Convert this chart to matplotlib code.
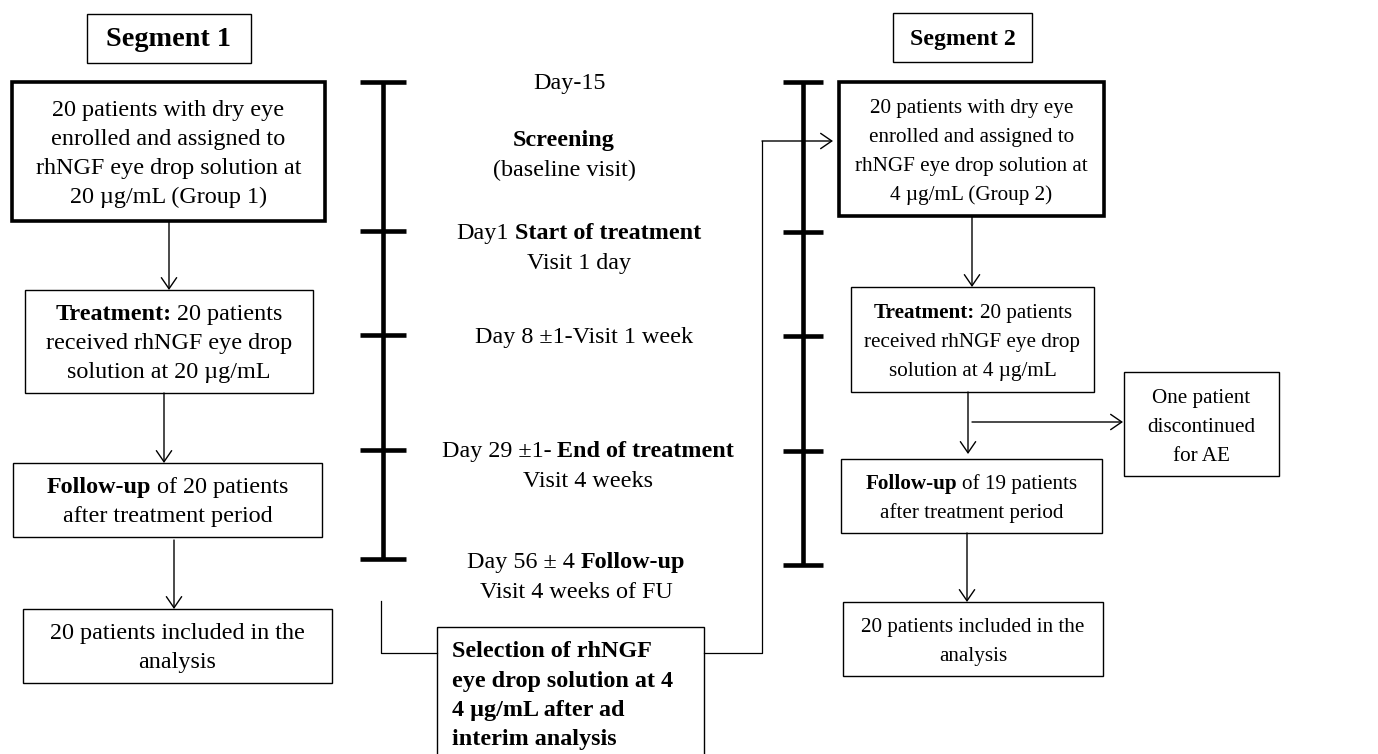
import matplotlib
matplotlib.use("Agg")
import matplotlib.pyplot as plt
from matplotlib.patches import Rectangle, FancyArrowPatch

SERIF = "Liberation Serif"

# ---- texts (** marks bold runs) ----
seg_titles = ["Segment 1", "Segment 2"]

seg1_text = [
    ["20 patients with dry eye", "enrolled and assigned to",
     "rhNGF eye drop solution at", "20 µg/mL (Group 1)"],
    ["**Treatment:** 20 patients", "received rhNGF eye drop",
     "solution at 20 µg/mL"],
    ["**Follow-up** of 20 patients", "after treatment period"],
    ["20 patients included in the", "analysis"],
]
seg2_text = [
    ["20 patients with dry eye", "enrolled and assigned to",
     "rhNGF eye drop solution at", "4 µg/mL (Group 2)"],
    ["**Treatment:** 20 patients", "received rhNGF eye drop",
     "solution at 4 µg/mL"],
    ["**Follow-up** of 19 patients", "after treatment period"],
    ["20 patients included in the", "analysis"],
]
dropout_text = ["One patient", "discontinued", "for AE"]

timeline_labels = [
    ["Day-15"],
    ["**Screening**", "(baseline visit)"],
    ["Day1 **Start of treatment**", "Visit 1 day"],
    ["Day 8 ±1-Visit 1 week"],
    ["Day 29 ±1- **End of treatment**", "Visit 4 weeks"],
    ["Day 56 ± 4 **Follow-up**", "Visit 4 weeks of FU"],
]
selection_text = ["Selection of rhNGF", "eye drop solution at 4",
                  "4 µg/mL after ad", "interim analysis"]

fig = plt.figure(figsize=(13.78, 7.54), dpi=100)
ax = fig.add_axes([0, 0, 1, 1])
ax.set_xlim(0, 1378)
ax.set_ylim(754, 0)
ax.axis("off")
renderer = fig.canvas.get_renderer()


def text_width(s, size, bold):
    t = ax.text(0, 0, s, fontsize=size, family=SERIF,
                fontweight="bold" if bold else "normal")
    w = t.get_window_extent(renderer).width
    t.remove()
    return w


def rich_line(x, y, line, size, ha="center", bold_all=False):
    parts = line.split("**")
    pieces = [(p.strip(), bold_all or i % 2 == 1)
              for i, p in enumerate(parts) if p.strip()]
    gap = text_width("a a", size, False) - text_width("aa", size, False)
    arts = [ax.text(0, y, p, fontsize=size, family=SERIF, va="baseline",
                    ha="left", fontweight="bold" if b else "normal")
            for p, b in pieces]
    widths = [a.get_window_extent(renderer).width for a in arts]
    total = sum(widths) + gap * (len(arts) - 1)
    x0 = x - total / 2 if ha == "center" else x
    for a, w in zip(arts, widths):
        a.set_x(x0)
        x0 += w + gap


def text_block(x, y0, lines, size, ls=29, **kw):
    for i, line in enumerate(lines):
        rich_line(x, y0 + i * ls, line, size, **kw)


def boxed(x0, y0, x1, y1, lines, size, lw=1.0, ls=29):
    ax.add_patch(Rectangle((x0, y0), x1 - x0, y1 - y0, fill=False,
                           lw=lw, ec="black"))
    cy = (y0 + y1) / 2
    first = cy - (len(lines) - 1) * ls / 2 + 7.8
    text_block((x0 + x1) / 2, first, lines, size, ls)


def arrow(p0, p1):
    ax.add_patch(FancyArrowPatch(p0, p1, arrowstyle="->,head_length=0.8,head_width=0.55",
                                 mutation_scale=10, lw=1.0, color="black",
                                 shrinkA=0, shrinkB=0))


# segment titles
boxed(87, 14, 251, 63, ["**" + seg_titles[0] + "**"], 20.3)
boxed(893, 13, 1032, 62, ["**" + seg_titles[1] + "**"], 17.2)

# segment 1 column
s1_boxes = [(12, 82, 325, 221), (25, 290, 313, 393),
            (13, 463, 322, 537), (23, 609, 332, 683)]
for i, (b, lines) in enumerate(zip(s1_boxes, seg1_text)):
    boxed(*b, lines, 17.4, lw=2.6 if i == 0 else 1.0)
arrow((169, 221), (169, 290))
arrow((164, 393), (164, 463))
arrow((174, 540), (174, 609))

# segment 2 column
s2_boxes = [(839, 82, 1104, 216), (851, 287, 1094, 392),
            (841, 459, 1102, 533), (843, 602, 1103, 676)]
for i, (b, lines) in enumerate(zip(s2_boxes, seg2_text)):
    boxed(*b, lines, 15.2, lw=2.6 if i == 0 else 1.0)
boxed(1124, 372, 1279, 476, dropout_text, 15.2)
arrow((972, 216), (972, 287))
arrow((968, 392), (968, 454))
arrow((972, 422), (1123, 422))
arrow((967, 533), (967, 602))

# timelines
for xc, half, ticks in [(383, 23, [82, 231, 335, 450, 559]),
                        (803, 20, [82, 232, 336, 451, 565])]:
    ax.plot([xc, xc], [ticks[0], ticks[-1]], color="black", lw=3.3,
            solid_capstyle="butt")
    for ty in ticks:
        ax.plot([xc - half, xc + half], [ty, ty], color="black", lw=3.3,
                solid_capstyle="butt")

label_pos = [(570, 89), (564, 146), (579, 239), (584, 343), (588, 457), (576, 568)]
for (lx, ly), lines in zip(label_pos, timeline_labels):
    text_block(lx, ly, lines, 17.4, ls=30)

# selection box and connectors
ax.add_patch(Rectangle((437, 627), 704 - 437, 160, fill=False, lw=1.0, ec="black"))
text_block(452, 657, selection_text, 17.4, ls=29.5, ha="left", bold_all=True)
ax.plot([381, 381, 437], [601, 653, 653], color="black", lw=0.9)
ax.plot([704, 762, 762], [653, 653, 141], color="black", lw=0.9)
arrow((762, 141), (833, 141))

fig.savefig("out.png", dpi=100)
